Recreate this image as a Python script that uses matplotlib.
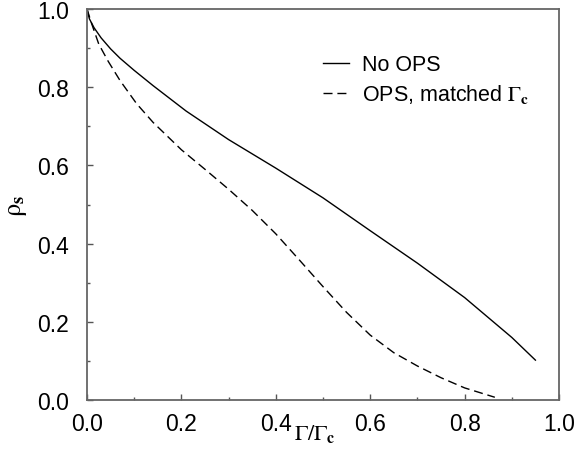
"""Superfluid fraction vs Gamma/Gamma_c, with and without OPS."""

import matplotlib

matplotlib.use("Agg")
import matplotlib.pyplot as plt
from matplotlib.ticker import MultipleLocator


# values
x_no_ops = [0.0, 0.005, 0.015, 0.03, 0.05, 0.07, 0.10, 0.14, 0.21, 0.30, 0.40, 0.50,
            0.60, 0.70, 0.80, 0.90, 0.95]
rho_no_ops = [1.0, 0.975, 0.952, 0.926, 0.898, 0.874, 0.843, 0.804, 0.739, 0.666, 0.593,
              0.517, 0.433, 0.350, 0.262, 0.160, 0.102]

x_ops = [0.0, 0.01, 0.025, 0.045, 0.07, 0.105, 0.14, 0.176, 0.20, 0.25, 0.30, 0.35, 0.40,
         0.45, 0.50, 0.55, 0.60, 0.65, 0.70, 0.75, 0.80, 0.864]
rho_ops = [1.0, 0.962, 0.910, 0.866, 0.817, 0.758, 0.710, 0.668, 0.640, 0.590, 0.539, 0.485,
           0.425, 0.358, 0.290, 0.224, 0.166, 0.121, 0.087, 0.057, 0.031, 0.007]

labels = ["No OPS", r"OPS, matched $\Gamma_\mathbf{c}$"]

plt.rcParams["font.family"] = ["Liberation Sans", "DejaVu Sans"]
plt.rcParams["mathtext.fontset"] = "stix"

fig = plt.figure(figsize=(5.75, 4.52), dpi=100)
ax = fig.add_axes([0.1513, 0.1128, 0.8209, 0.8651])

ax.plot(x_no_ops, rho_no_ops, color="black", lw=1.0, label=labels[0])
ax.plot(x_ops, rho_ops, color="black", lw=1.0, linestyle=(0, (6.5, 3.5)), label=labels[1])

ax.set_xlim(0, 1)
ax.set_ylim(0, 1)
ax.xaxis.set_major_locator(MultipleLocator(0.2))
ax.xaxis.set_minor_locator(MultipleLocator(0.1))
ax.yaxis.set_major_locator(MultipleLocator(0.2))
ax.yaxis.set_minor_locator(MultipleLocator(0.1))
ax.xaxis.set_major_formatter(lambda v, p: f"{v:.1f}")
ax.yaxis.set_major_formatter(lambda v, p: f"{v:.1f}")
ax.tick_params(which="both", direction="in", top=False, right=False,
               labelsize=16.5, color="#555555", width=1.0)
ax.tick_params(which="major", length=4.2)
ax.tick_params(which="minor", length=2.2)
ax.tick_params(axis="x", which="major", pad=8.5)
ax.tick_params(axis="y", which="major", pad=13)
for spine in ax.spines.values():
    spine.set_color("#666666")
    spine.set_linewidth(1.3)

ax.set_xlabel(r"$\Gamma/\Gamma_\mathbf{c}$", fontsize=16)
ax.xaxis.set_label_coords(0.483, -0.055, transform=ax.transAxes)
ax.xaxis.label.set_verticalalignment("top")
ax.set_ylabel(r"$\mathrm{\rho}_\mathbf{s}$", fontsize=19, labelpad=6)

ax.legend(loc="upper left", bbox_to_anchor=(0.50, 0.884), frameon=False, fontsize=15.5,
          handlelength=1.2, handletextpad=0.6, labelspacing=0.33, borderpad=0,
          borderaxespad=0)

fig.savefig("out.png", dpi=100)
plt.close(fig)
